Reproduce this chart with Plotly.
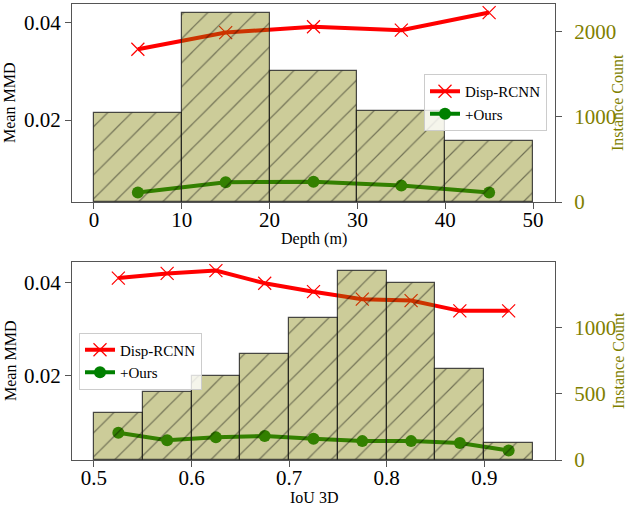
import plotly.graph_objects as go
from plotly.subplots import make_subplots

# ---- data: top panel (depth) ----
depth_centers = [5, 15, 25, 35, 45]
depth_counts = [1047, 2216, 1538, 1067, 722]
depth_disp = [0.0345, 0.0379, 0.0391, 0.0384, 0.0420]
depth_ours = [0.0052, 0.0073, 0.0074, 0.0066, 0.0052]
depth_ticks = [0, 10, 20, 30, 40, 50]

# ---- data: bottom panel (IoU 3D) ----
iou_centers = [0.525, 0.575, 0.625, 0.675, 0.725, 0.775, 0.825, 0.875, 0.925]
iou_counts = [352, 515, 633, 797, 1072, 1424, 1339, 688, 130]
iou_disp = [0.0409, 0.0419, 0.0425, 0.0398, 0.0380, 0.0364, 0.0361, 0.0339, 0.0339]
iou_ours = [0.0079, 0.0063, 0.0069, 0.0072, 0.0066, 0.0061, 0.0061, 0.0057, 0.0041]
iou_ticks = [0.5, 0.6, 0.7, 0.8, 0.9]

W, H = 628, 506
SERIF = "Liberation Serif"
OLIVE = "rgb(128,128,0)"
SPINE = "#555555"

fig = make_subplots(rows=2, cols=1, specs=[[{"secondary_y": True}], [{"secondary_y": True}]])

def add_panel(row, centers, counts, disp, ours, width, legend):
    fig.add_trace(go.Scatter(x=centers, y=disp, mode="lines+markers", name="Disp-RCNN",
                             line=dict(color="red", width=4),
                             marker=dict(symbol="x-thin", size=13, color="red",
                                         line=dict(color="red", width=1.2)),
                             legend=legend), row=row, col=1, secondary_y=False)
    fig.add_trace(go.Scatter(x=centers, y=ours, mode="lines+markers", name="+Ours",
                             line=dict(color="green", width=4),
                             marker=dict(symbol="circle", size=12, color="green"),
                             legend=legend), row=row, col=1, secondary_y=False)
    fig.add_trace(go.Bar(x=centers, y=counts, width=width, showlegend=False,
                         marker=dict(color="rgba(128,128,0,0.4)",
                                     line=dict(color="rgba(30,30,30,0.8)", width=1.2),
                                     pattern=dict(shape="/", size=17, solidity=0.07,
                                                  fgcolor="rgba(0,0,0,0.9)",
                                                  bgcolor="rgba(128,128,0,0.4)")),
                         ), row=row, col=1, secondary_y=True)

add_panel(1, depth_centers, depth_counts, depth_disp, depth_ours, 10, "legend")
add_panel(2, iou_centers, iou_counts, iou_disp, iou_ours, 0.05, "legend2")

xdom = [72 / W, 555 / W]
top_dom = [1 - 202 / H, 1 - 4 / H]
bot_dom = [1 - 460 / H, 1 - 262 / H]

tickfont = dict(family=SERIF, size=21, color="black")
common = dict(showgrid=False, zeroline=False, showline=True, linecolor=SPINE, linewidth=1.2,
              ticks="outside", ticklen=6, tickwidth=1.2, tickcolor=SPINE, automargin=False)

fig.update_layout(
    width=W, height=H, margin=dict(l=0, r=0, t=0, b=0),
    paper_bgcolor="white", plot_bgcolor="white", bargap=0,
    xaxis=dict(domain=xdom, range=[-2.5, 52.5], tickvals=depth_ticks, mirror=True,
               tickfont=tickfont, ticklabelstandoff=-7, **common),
    yaxis=dict(domain=top_dom, range=[0.00325, 0.04375], tickvals=[0.02, 0.04],
               ticktext=["0.02", "0.04"], mirror=True, tickfont=tickfont, **common),
    yaxis2=dict(domain=top_dom, range=[0, 2327], tickvals=[0, 1000, 2000],
                tickfont=dict(family=SERIF, size=21, color=OLIVE), ticklabelstandoff=8,
                **common),
    xaxis2=dict(domain=xdom, range=[0.4775, 0.9725], tickvals=iou_ticks,
                ticktext=["0.5", "0.6", "0.7", "0.8", "0.9"], mirror=True,
                tickfont=tickfont, ticklabelstandoff=-7, **common),
    yaxis3=dict(domain=bot_dom, range=[0.00207, 0.04433], tickvals=[0.02, 0.04],
                ticktext=["0.02", "0.04"], mirror=True, tickfont=tickfont, **common),
    yaxis4=dict(domain=bot_dom, range=[0, 1495], tickvals=[0, 500, 1000],
                tickfont=dict(family=SERIF, size=21, color=OLIVE), ticklabelstandoff=8,
                **common),
    legend=dict(x=547 / W, xanchor="right", y=1 - 102.5 / H, yanchor="middle",
                bgcolor="rgba(255,255,255,0.8)", bordercolor="#cccccc", borderwidth=1,
                font=dict(family=SERIF, size=15, color="black"), tracegroupgap=0, itemwidth=30),
    legend2=dict(x=79 / W, xanchor="left", y=1 - 361 / H, yanchor="middle",
                 bgcolor="rgba(255,255,255,0.8)", bordercolor="#cccccc", borderwidth=1,
                 font=dict(family=SERIF, size=15, color="black"), tracegroupgap=0, itemwidth=30),
)

def axis_title(text, x, y, angle=0, color="black"):
    fig.add_annotation(text=text, x=x / W, y=1 - y / H, xref="paper", yref="paper",
                       showarrow=False, textangle=angle, xanchor="center", yanchor="middle",
                       font=dict(family=SERIF, size=16, color=color))

axis_title("Depth (m)", 313.5, 239)
axis_title("IoU 3D", 313.5, 497)
axis_title("Mean MMD", 10, 103, angle=-90)
axis_title("Mean MMD", 10, 361, angle=-90)
axis_title("Instance Count", 618, 103, angle=-90, color=OLIVE)
axis_title("Instance Count", 618, 361, angle=-90, color=OLIVE)

fig.write_html("out.html")
